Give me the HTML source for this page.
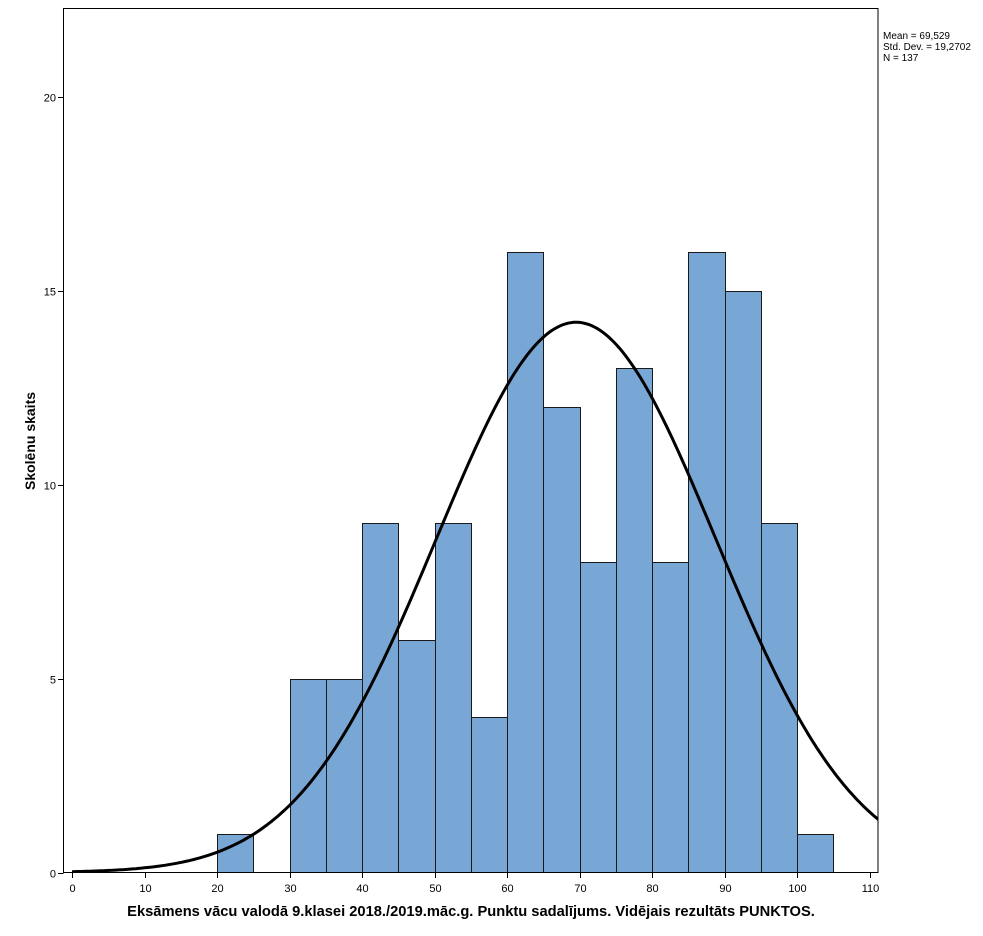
<!DOCTYPE html>
<html><head><meta charset="utf-8"><style>
html,body{margin:0;padding:0;background:#fff;}
svg{display:block;font-family:"Liberation Sans",Arial,sans-serif;}
</style></head><body>
<svg id="s" width="983" height="936" viewBox="0 0 983 936" xmlns="http://www.w3.org/2000/svg">
<defs><clipPath id="cp"><rect x="63.5" y="8.5" width="814.5" height="864"/></clipPath></defs>
<rect x="0" y="0" width="983" height="936" fill="#fff"/>
<g id="bars"></g>
<rect x="63.5" y="8.5" width="814.5" height="864" fill="none" stroke="#000" stroke-width="1"/>
<g id="ticks" stroke="#000" stroke-width="1"></g>
<g id="labs" font-size="11" fill="#000"></g>
<path id="curve" fill="none" stroke="#000" stroke-width="3" clip-path="url(#cp)"/>
<text x="883" y="39" font-size="10">Mean = 69,529</text>
<text x="883" y="50" font-size="10">Std. Dev. = 19,2702</text>
<text x="883" y="61" font-size="10">N = 137</text>
<text x="471" y="916" font-size="14.7" font-weight="bold" text-anchor="middle">Eksāmens vācu valodā 9.klasei 2018./2019.māc.g. Punktu sadalījums. Vidējais rezultāts PUNKTOS.</text>
<text transform="translate(35,441) rotate(-90)" font-size="14" font-weight="bold" text-anchor="middle">Skolēnu skaits</text>
</svg>
<script>
var X=function(v){return 72+v*7.25;},Y=function(c){return 872.5-c*38.8;};
var ns="http://www.w3.org/2000/svg";
function el(t,a,p){var e=document.createElementNS(ns,t);for(var k in a)e.setAttribute(k,a[k]);document.getElementById(p).appendChild(e);return e;}
var d={20:1,30:5,35:5,40:9,45:6,50:9,55:4,60:16,65:12,70:8,75:13,80:8,85:16,90:15,95:9,100:1};
for(var k in d){var x0=Math.round(X(+k))+0.5,x1=Math.round(X(+k+5))+0.5,y=Math.round(Y(d[k]))+0.5;
el("rect",{x:x0,y:y,width:x1-x0,height:872.5-y,fill:"#79a7d5",stroke:"#1a1a1a","stroke-width":1},"bars");}
for(var v=0;v<=110;v+=10){var x=Math.round(X(v))+0.5;el("line",{x1:x,y1:873,x2:x,y2:878},"ticks");
var t=el("text",{x:x,y:892,"text-anchor":"middle"},"labs");t.textContent=v;}
for(var c=0;c<=20;c+=5){var y=Math.round(Y(c))+0.5;el("line",{x1:58,y1:y,x2:63.5,y2:y},"ticks");
var t=el("text",{x:56,y:y+4,"text-anchor":"end"},"labs");t.textContent=c;}
var m=69.529,s=19.2702,A=137*5/(s*Math.sqrt(2*Math.PI)),p="";
for(var v=0;v<=112.4;v+=0.4){var y=A*Math.exp(-0.5*Math.pow((v-m)/s,2));p+=(p?"L":"M")+X(v).toFixed(1)+","+Y(y).toFixed(1);}
document.getElementById("curve").setAttribute("d",p);
</script>
</body></html>
